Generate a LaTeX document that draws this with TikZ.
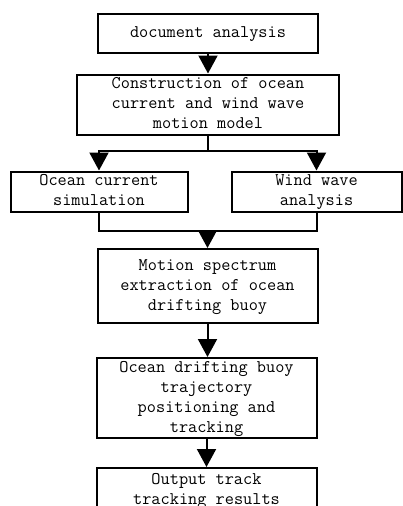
\documentclass[tikz,border=0pt]{standalone}
\usetikzlibrary{arrows.meta}
\newcommand{\ls}{\strut\\}
\begin{document}
\begin{tikzpicture}[x=1pt,y=-1pt,
  boxnode/.style={draw=black,line width=2pt,fill=white,align=center,inner sep=0pt,
    font=\ttfamily\fontsize{17.8}{20}\selectfont},
  conn/.style={line width=2pt,draw=black},
  arr/.style={conn,-{Triangle[width=19pt,length=18pt]}}]
\useasboundingbox (0,0) rectangle (402,506);
\node[boxnode,minimum width=220pt,minimum height=39pt] (b1) at (208,33.5) {document analysis\strut};
\node[boxnode,minimum width=262pt,minimum height=59pt] (b2) at (208,104.5) {Construction of ocean\ls current and wind wave\ls motion model\strut};
\node[boxnode,minimum width=177pt,minimum height=39pt] (b3) at (99,191.5) {Ocean current\ls simulation\strut};
\node[boxnode,minimum width=170pt,minimum height=39pt] (b4) at (316.5,191.5) {Wind wave\ls analysis\strut};
\node[boxnode,minimum width=220pt,minimum height=74pt] (b5) at (207.5,286) {Motion spectrum\ls extraction of ocean\ls drifting buoy\strut};
\node[boxnode,minimum width=220pt,minimum height=80pt] (b6) at (206.5,398) {Ocean drifting buoy\ls trajectory\ls positioning and\ls tracking\strut};
\node[boxnode,minimum width=220pt,minimum height=44pt] (b7) at (206.5,490) {Output track\ls tracking results\strut};
\coordinate (j1) at (208,151);
\coordinate (j2) at (207.5,231);
\draw[arr] (b1.south) -- (b2.north);
\draw[conn] (b2.south) -- (j1);
\draw[arr] (j1) -| (b3.north);
\draw[arr] (j1) -| (b4.north);
\draw[conn] (b3.south) |- (j2) -| (b4.south);
\draw[arr] (j2) -- (b5.north);
\draw[arr] (b5.south) -- (b5.south |- b6.north);
\draw[arr] (b6.south) -- (b7.north);
\end{tikzpicture}
\end{document}
